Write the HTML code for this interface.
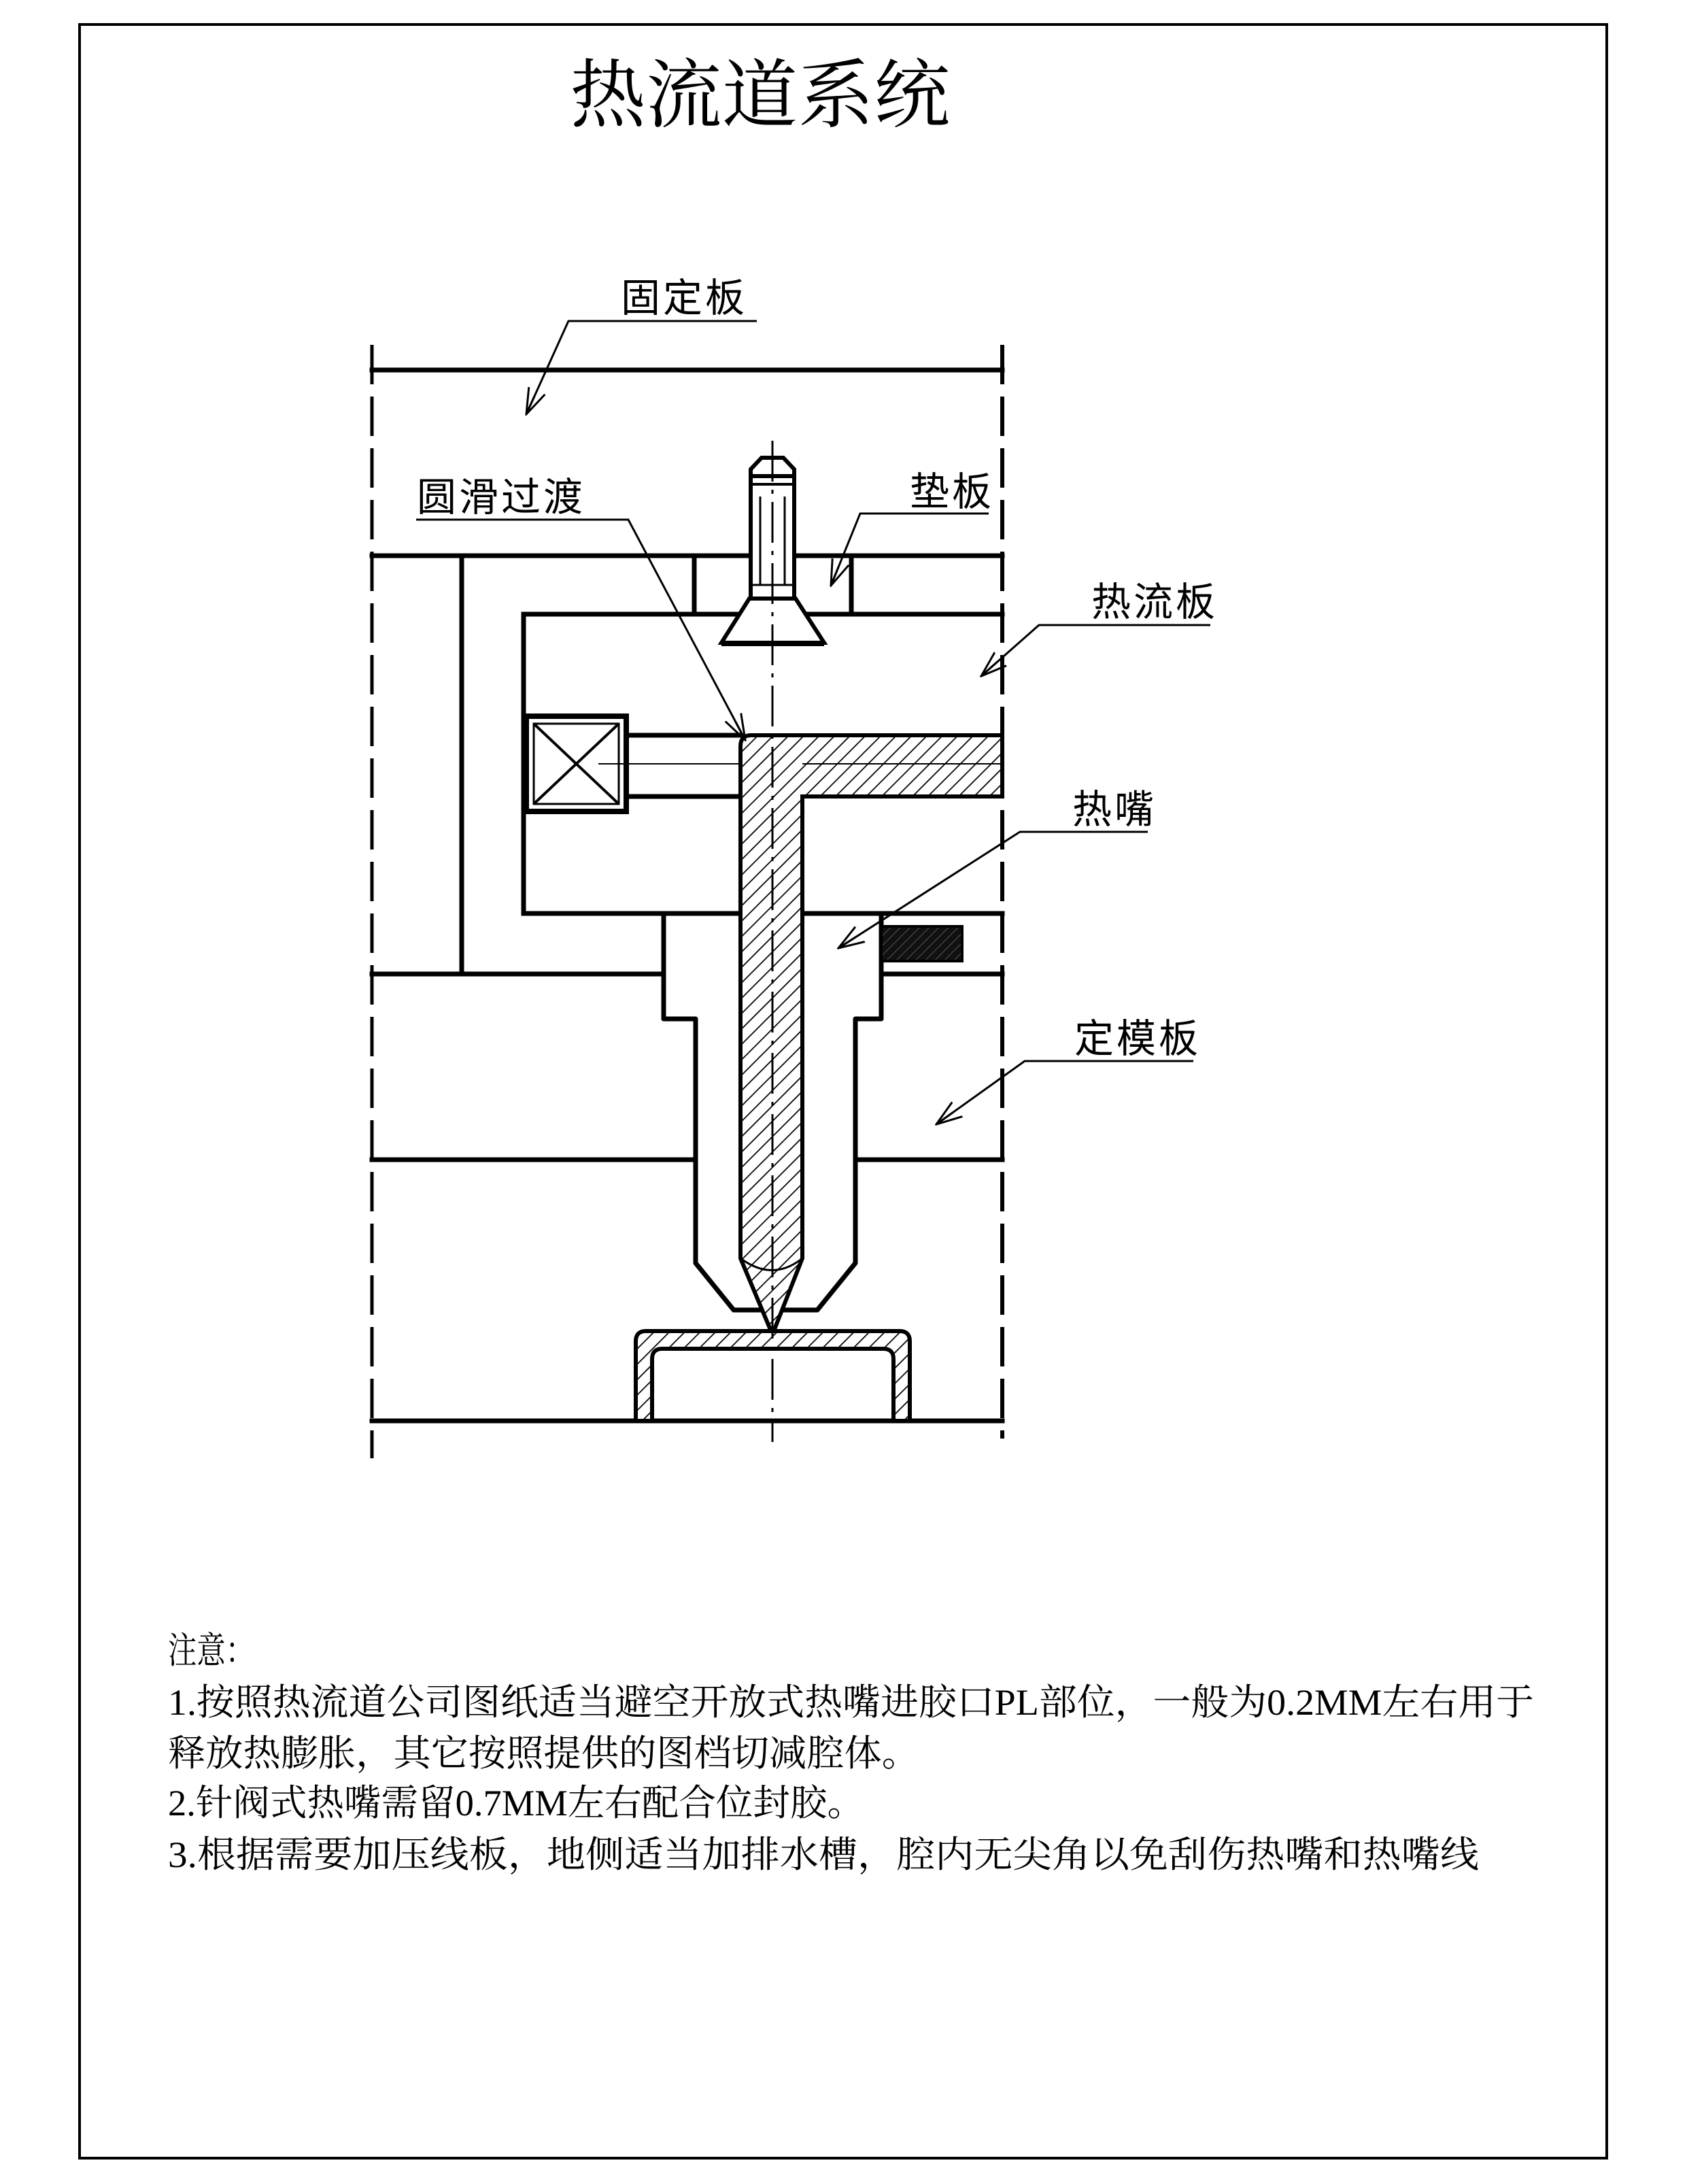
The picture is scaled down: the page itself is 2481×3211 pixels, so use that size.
<!DOCTYPE html>
<html><head><meta charset="utf-8"><style>
html,body{margin:0;padding:0;background:#fff}
svg{display:block}
.lbl{font-family:"Liberation Sans","Noto Sans CJK SC",sans-serif;font-size:58px;fill:#000;letter-spacing:4px}
.nt{font-family:"Liberation Serif","Noto Serif CJK SC",serif;font-size:54px;fill:#000}
</style></head><body>
<svg width="2481" height="3211" viewBox="0 0 2481 3211" xmlns="http://www.w3.org/2000/svg">
<defs>
<pattern id="h" patternUnits="userSpaceOnUse" width="16" height="16" patternTransform="rotate(45)">
<rect width="16" height="16" fill="#fff"/><line x1="0" y1="0" x2="0" y2="16" stroke="#000" stroke-width="3.5"/></pattern>
<pattern id="hd" patternUnits="userSpaceOnUse" width="10" height="10" patternTransform="rotate(45)">
<rect width="10" height="10" fill="#111"/><line x1="0" y1="0" x2="0" y2="10" stroke="#555" stroke-width="2"/></pattern>
<marker id="ar" markerWidth="40" markerHeight="30" refX="38" refY="15" orient="auto" markerUnits="userSpaceOnUse">
<path d="M0,2 L38,15 L0,28 M8,15 L38,15" fill="none" stroke="#000" stroke-width="3"/></marker>
</defs>
<rect x="117" y="36" width="2246" height="3137" fill="none" stroke="#000" stroke-width="4"/>
<text x="838" y="178" font-family="Liberation Serif,'Noto Serif CJK SC',serif" font-size="110" textLength="559" lengthAdjust="spacingAndGlyphs">热流道系统</text>

<g stroke="#000" stroke-width="7" fill="none" stroke-linecap="square">
<line x1="547" y1="544" x2="1474" y2="544"/>
<line x1="547" y1="817" x2="1474" y2="817"/>
<line x1="679" y1="817" x2="679" y2="1432"/>
<line x1="1021" y1="817" x2="1021" y2="903"/>
<line x1="1252" y1="817" x2="1252" y2="903"/>
<path d="M1474,903 L770,903 L770,1343 L1474,1343"/>
<line x1="921" y1="1081" x2="1089" y2="1081"/>
<line x1="921" y1="1171" x2="1089" y2="1171"/>
<line x1="547" y1="1432" x2="976" y2="1432"/>
<line x1="1296" y1="1432" x2="1474" y2="1432"/>
<line x1="547" y1="1705" x2="1023" y2="1705"/>
<line x1="1258" y1="1705" x2="1474" y2="1705"/>
<line x1="547" y1="2089" x2="1474" y2="2089"/>
<path d="M976,1343 L976,1498 L1023,1498 L1023,1857 L1079,1926 L1202,1926 L1258,1857 L1258,1498 L1296,1498 L1296,1343" stroke-linejoin="round"/>
</g>
<g stroke="#000" fill="none">
<rect x="774" y="1053" width="147" height="140" stroke-width="8"/>
<rect x="785" y="1064" width="125" height="118" stroke-width="3"/>
<line x1="785" y1="1064" x2="910" y2="1182" stroke-width="4"/>
<line x1="910" y1="1064" x2="785" y2="1182" stroke-width="4"/>
<line x1="880" y1="1123" x2="1474" y2="1123" stroke-width="2"/>
</g>
<path d="M1105,1081 L1474,1081 L1474,1171 L1180,1171 L1180,1850 L1136,1962 L1089,1850 L1089,1097 Q1089,1081 1105,1081 Z" fill="url(#h)" stroke="#000" stroke-width="6"/>
<path d="M1089,1850 Q1136,1885 1180,1850" fill="none" stroke="#000" stroke-width="3"/>
<line x1="1180" y1="1123" x2="1474" y2="1123" stroke="#000" stroke-width="2"/>
<rect x="1296" y="1362" width="119" height="51" fill="url(#hd)" stroke="#000" stroke-width="4"/>
<path fill-rule="evenodd" fill="url(#h)" stroke="#000" stroke-width="6" d="M935,2089 L935,1972 Q935,1957 950,1957 L1323,1957 Q1338,1957 1338,1972 L1338,2089 L1314,2089 L1314,1998 Q1314,1983 1299,1983 L974,1983 Q959,1983 959,1998 L959,2089 Z"/>
<g stroke="#000" fill="#fff" stroke-width="6">
<path d="M1061,945 L1212,945 L1170,880 L1102,880 Z"/>
<rect x="1104" y="700" width="64" height="180"/>
<line x1="1118" y1="730" x2="1118" y2="860" stroke-width="3"/>
<line x1="1154" y1="730" x2="1154" y2="860" stroke-width="3"/>
<line x1="1104" y1="860" x2="1168" y2="860" stroke-width="3"/>
<path d="M1104,700 L1104,690 L1120,673 L1152,673 L1168,690 L1168,700 Z"/>
<line x1="1104" y1="712" x2="1168" y2="712" stroke-width="4"/>
</g>
<line x1="1061" y1="946" x2="1212" y2="946" stroke="#000" stroke-width="8"/>
<g stroke="#000" fill="none">
<line x1="547" y1="507" x2="547" y2="2144" stroke-width="5" stroke-dasharray="58 18"/>
<line x1="1474" y1="507" x2="1474" y2="2115" stroke-width="6" stroke-dasharray="58 18"/>
<line x1="1136" y1="648" x2="1136" y2="2120" stroke-width="3" stroke-dasharray="60 12 6 12"/>
</g>
<g stroke="#000" stroke-width="3" fill="none">
<path d="M1113,472 L836,472 L774,609" marker-end="url(#ar)"/>
<path d="M612,764 L924,764 L1096,1088" marker-end="url(#ar)"/>
<path d="M1454,755 L1265,755 L1222,861" marker-end="url(#ar)"/>
<path d="M1780,919 L1528,919 L1443,994" marker-end="url(#ar)"/>
<path d="M1688,1223 L1500,1223 L1233,1394" marker-end="url(#ar)"/>
<path d="M1755,1560 L1507,1560 L1377,1653" marker-end="url(#ar)"/>
</g>
<text class="lbl" x="913" y="458">固定板</text>
<text class="lbl" x="613" y="751">圆滑过渡</text>
<text class="lbl" x="1338" y="743">垫板</text>
<text class="lbl" x="1605" y="905">热流板</text>
<text class="lbl" x="1577" y="1210">热嘴</text>
<text class="lbl" x="1580" y="1547">定模板</text>
<text class="nt" x="247" y="2445" textLength="127" lengthAdjust="spacingAndGlyphs">注意：</text>
<text class="nt" x="247" y="2521" textLength="2009" lengthAdjust="spacingAndGlyphs">1.按照热流道公司图纸适当避空开放式热嘴进胶口PL部位，一般为0.2MM左右用于</text>
<text class="nt" x="247" y="2596" textLength="1105" lengthAdjust="spacingAndGlyphs">释放热膨胀，其它按照提供的图档切减腔体。</text>
<text class="nt" x="247" y="2669" textLength="1024" lengthAdjust="spacingAndGlyphs">2.针阀式热嘴需留0.7MM左右配合位封胶。</text>
<text class="nt" x="247" y="2745" textLength="1928" lengthAdjust="spacingAndGlyphs">3.根据需要加压线板，地侧适当加排水槽，腔内无尖角以免刮伤热嘴和热嘴线</text>
</svg>
</body></html>
